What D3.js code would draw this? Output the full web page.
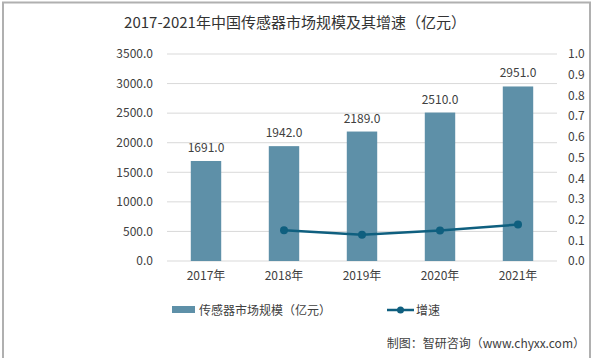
<!DOCTYPE html>
<html><head><meta charset="utf-8">
<script src="https://cdn.jsdelivr.net/npm/d3@7"></script>
<style>body{margin:0;background:#fff}svg{display:block}</style>
</head><body>
<script>
const years = ["2017年","2018年","2019年","2020年","2021年"];
const marketSize = [1691.0,1942.0,2189.0,2510.0,2951.0];
const growth = [null,0.148,0.127,0.147,0.176];
const leftTicks = [0,500,1000,1500,2000,2500,3000,3500];
const rightTicks = [0,0.1,0.2,0.3,0.4,0.5,0.6,0.7,0.8,0.9,1.0];
const title = "2017-2021年中国传感器市场规模及其增速（亿元）";
const seriesNames = ["传感器市场规模（亿元）","增速"];
const source = "制图：智研咨询（www.chyxx.com）";

const W=594,H=358;
const font = "'Noto Sans CJK SC','Open Sans',sans-serif";
const svg=d3.select("body").append("svg").attr("width",W).attr("height",H);
svg.append("rect").attr("x",3).attr("y",2.5).attr("width",587).attr("height",360)
  .attr("fill","#fff").attr("stroke","#b0b0b0").attr("stroke-width",2);

const x0=167,x1=557,yTop=54,yBot=261;
const x=d3.scaleBand().domain(years).range([x0,x1]).paddingInner(0.61).paddingOuter(0.305);
const yL=d3.scaleLinear().domain([0,3500]).range([yBot,yTop]);
const yR=d3.scaleLinear().domain([0,1]).range([yBot,yTop]);

// gridlines
svg.append("g").selectAll("line").data(leftTicks).join("line")
  .attr("x1",x0).attr("x2",x1).attr("y1",d=>yL(d)).attr("y2",d=>yL(d))
  .attr("stroke","#d9d9d9").attr("stroke-width",1);

const axL=svg.append("g").attr("transform",`translate(${x0},0)`)
  .call(d3.axisLeft(yL).tickValues(leftTicks).tickFormat(d3.format(".1f")).tickSize(0).tickPadding(14));
const axR=svg.append("g").attr("transform",`translate(${x1},0)`)
  .call(d3.axisRight(yR).tickValues(rightTicks).tickFormat(d3.format(".1f")).tickSize(0).tickPadding(11));
const axB=svg.append("g").attr("transform",`translate(0,${yBot})`)
  .call(d3.axisBottom(x).tickSize(0).tickPadding(10));
[axL,axR,axB].forEach(a=>{a.select(".domain").remove();
  a.selectAll("text").attr("font-family",font).attr("font-size",12).attr("fill","#404040");});

svg.append("g").selectAll("rect").data(marketSize).join("rect")
  .attr("x",(d,i)=>x(years[i])).attr("width",x.bandwidth())
  .attr("y",d=>yL(d)).attr("height",d=>yBot-yL(d)).attr("fill","#5e90a8");

svg.append("g").selectAll("text").data(marketSize).join("text")
  .attr("x",(d,i)=>x(years[i])+x.bandwidth()/2).attr("y",d=>yL(d)-9)
  .attr("text-anchor","middle").attr("font-family",font).attr("font-size",12).attr("fill","#404040")
  .text(d=>d3.format(".1f")(d));

const pts=growth.map((g,i)=>({g,i})).filter(d=>d.g!=null);
const line=d3.line().x(d=>x(years[d.i])+x.bandwidth()/2).y(d=>yR(d.g));
svg.append("path").datum(pts).attr("d",line).attr("fill","none").attr("stroke","#0f5f7f").attr("stroke-width",2.5);
svg.append("g").selectAll("circle").data(pts).join("circle")
  .attr("cx",d=>x(years[d.i])+x.bandwidth()/2).attr("cy",d=>yR(d.g)).attr("r",4).attr("fill","#0f5f7f");

svg.append("text").attr("x",295).attr("y",28).attr("text-anchor","middle")
  .attr("font-family",font).attr("font-size",15).attr("fill","#333").text(title);

// legend
const ly=310;
svg.append("rect").attr("x",172).attr("y",ly-4).attr("width",23).attr("height",7).attr("fill","#5e90a8");
svg.append("text").attr("x",199).attr("y",ly+4.5).attr("font-family",font).attr("font-size",12).attr("fill","#404040").text(seriesNames[0]);
svg.append("line").attr("x1",387).attr("x2",414).attr("y1",ly).attr("y2",ly).attr("stroke","#0f5f7f").attr("stroke-width",2.5);
svg.append("circle").attr("cx",400.5).attr("cy",ly).attr("r",3.5).attr("fill","#0f5f7f");
svg.append("text").attr("x",416).attr("y",ly+4.5).attr("font-family",font).attr("font-size",12).attr("fill","#404040").text(seriesNames[1]);

svg.append("text").attr("x",585).attr("y",348).attr("text-anchor","end")
  .attr("font-family",font).attr("font-size",12).attr("fill","#404040").text(source);
</script>
</body></html>
